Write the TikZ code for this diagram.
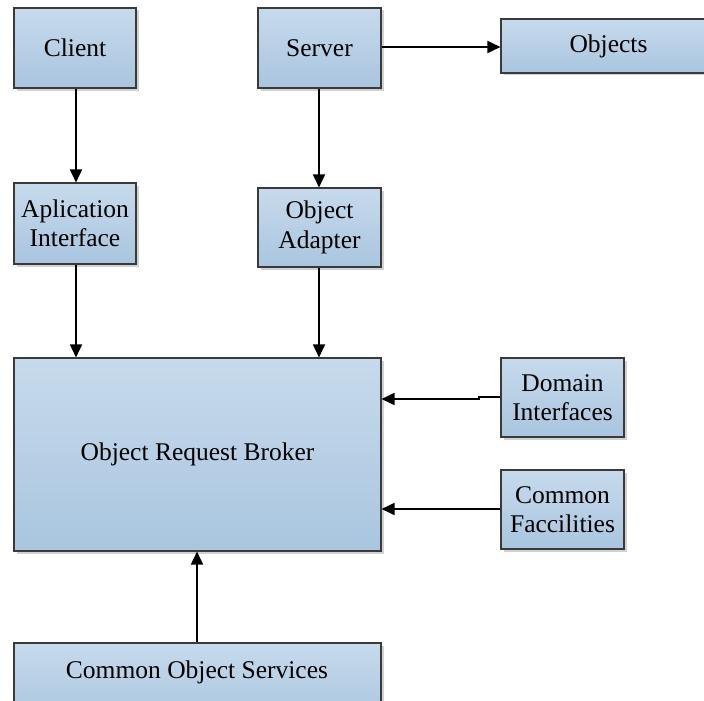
\documentclass[tikz,border=0pt]{standalone}
\usepackage{fontspec}
\setmainfont{Liberation Serif}
\usetikzlibrary{arrows.meta,shadows}
\definecolor{boxtop}{HTML}{C7DAEC}
\definecolor{boxbot}{HTML}{A9C5DF}
\definecolor{boxline}{HTML}{3A3A3A}
\tikzset{
  blk/.style={draw=boxline, line width=1.1pt, top color=boxtop, bottom color=boxbot,
    drop shadow={shadow xshift=2.5pt, shadow yshift=-2.5pt, fill=black!18, opacity=1},
    align=center, inner sep=0pt, font=\fontsize{25.5}{29.5}\selectfont},
  conn/.style={line width=1.8pt, -{Triangle[length=13pt,width=12pt]}}
}
\begin{document}
\begin{tikzpicture}[x=1pt,y=-1pt]
\useasboundingbox (0,0) rectangle (704,701);
\begin{scope}
\clip (0,0) rectangle (704,701);
\node[blk, minimum width=122pt, minimum height=80pt] (client) at (75,48) {Client};
\node[blk, minimum width=123pt, minimum height=80pt] (server) at (319.5,48) {Server};
\node[blk, minimum width=215pt, minimum height=54pt] (objects) at (608.5,46) {Objects};
\node[blk, minimum width=122pt, minimum height=81pt] (api) at (75,223.5) {Aplication\\Interface};
\node[blk, minimum width=123pt, minimum height=79pt] (oa) at (319.5,227.5) {Object\\Adapter};
\node[blk, minimum width=367pt, minimum height=193pt] (orb) at (197.5,454.5) {Object Request Broker};
\node[blk, minimum width=123pt, minimum height=79pt] (di) at (562.5,397.5) {Domain\\Interfaces};
\node[blk, minimum width=123pt, minimum height=79pt] (cf) at (562.5,509.5) {Common\\Faccilities};
\node[blk, minimum width=367pt, minimum height=80pt] (cos) at (197.5,683) {};
\node[font=\fontsize{25.5}{29.5}\selectfont] (costext) at (197,672.5) {Common Object Services};
\end{scope}
\draw[conn] (client.south -| 76,0) -- (api.north -| 76,0);
\draw[conn] (server.south -| 319,0) -- (oa.north -| 319,0);
\draw[conn] (server.east |- 0,47) -- (objects.west |- 0,47);
\draw[conn] (api.south -| 76,0) -- (orb.north -| 76,0);
\draw[conn] (oa.south -| 319,0) -- (orb.north -| 319,0);
\coordinate (j1) at (479,397);
\coordinate (j2) at (479,399);
\draw[conn] (di.west |- j1) -- (j1) -- (j2) -- (orb.east |- j2);
\draw[conn] (cf.west |- 0,509) -- (orb.east |- 0,509);
\draw[conn] (cos.north -| 197,0) -- (orb.south -| 197,0);
\end{tikzpicture}
\end{document}
